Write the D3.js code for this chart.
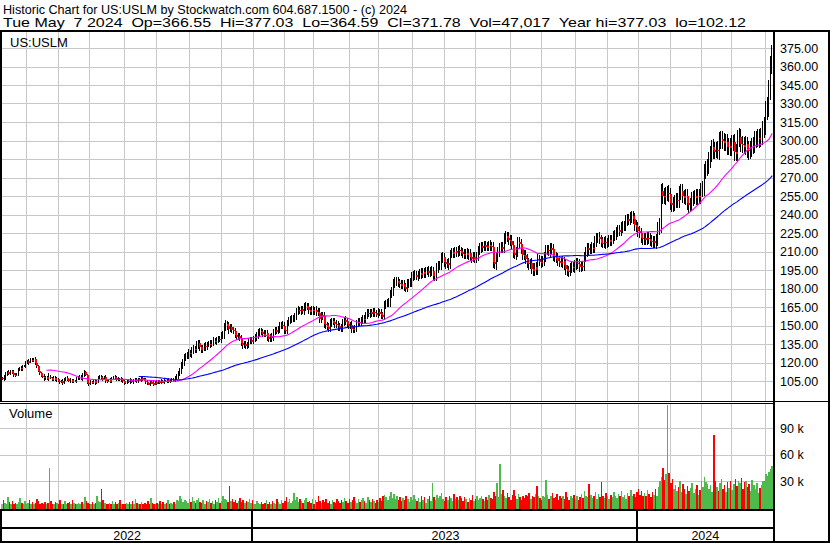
<!DOCTYPE html>
<html>
<head>
<meta charset="utf-8">
<script src="https://cdn.jsdelivr.net/npm/d3@7"></script>
<style>
  body { margin: 0; background: #fff; }
  svg { display: block; }
  text { font-family: "Liberation Sans", Arial, sans-serif; fill: #000; }
</style>
</head>
<body>
<div id="chart"></div>
<script>
// daily closes, US:USLM, 9 May 2022 .. 7 May 2024
var closes = [
  107.5,106.8,108.2,110.4,112.1,111.3,113.0,111.8,110.2,109.6,
  110.5,114.2,115.6,114.8,116.9,117.3,119.8,121.1,120.2,122.4,
  121.6,122.9,119.4,117.2,113.5,111.8,109.3,108.6,107.1,107.9,
  107.2,108.6,107.5,106.2,107.8,105.9,106.6,105.2,104.1,104.8,
  103.6,106.3,107.4,106.5,105.1,105.8,104.6,105.3,104.9,106.7,
  107.6,108.3,107.2,109.5,112.4,110.1,103.5,102.8,104.2,103.4,
  104.7,103.9,104.5,107.3,108.6,107.4,106.8,107.9,105.2,104.6,
  105.8,104.9,107.1,108.4,107.6,106.2,106.9,105.5,106.4,104.8,
  103.2,103.9,105.1,104.6,105.8,104.3,105.6,106.2,105.0,106.4,
  105.7,107.1,106.3,105.4,104.2,103.1,102.6,103.8,103.3,102.9,
  104.1,103.5,104.6,103.9,104.8,104.2,105.3,104.7,105.6,104.9,
  105.4,106.2,105.8,107.6,108.9,111.2,113.4,117.5,120.3,123.6,
  125.4,126.1,127.8,126.6,129.3,131.2,130.4,134.1,135.8,132.2,
  130.1,131.9,133.4,132.6,134.7,135.3,134.6,136.2,137.5,136.8,
  138.1,139.4,138.7,141.6,142.8,148.5,151.2,149.3,147.1,148.4,
  146.7,145.2,142.3,140.8,141.5,139.6,136.2,133.8,134.9,133.5,
  134.6,136.8,138.2,137.5,139.1,140.7,141.9,144.2,145.6,144.8,
  143.5,142.9,143.8,140.6,139.4,140.9,139.8,144.7,146.3,145.5,
  147.2,149.6,150.8,149.9,146.4,145.8,152.3,153.7,154.9,155.6,
  156.2,157.4,161.5,162.7,161.8,163.1,162.2,164.6,165.8,164.9,
  162.3,161.7,162.9,161.4,162.5,161.1,160.4,155.2,158.3,157.6,
  151.4,150.2,148.6,147.9,152.1,153.4,152.8,151.3,150.6,149.2,
  148.1,147.6,152.4,154.3,153.6,150.9,149.8,150.3,147.2,146.8,
  147.5,151.6,153.2,152.7,154.1,155.6,154.8,158.7,160.2,159.4,
  160.6,159.8,161.3,160.1,159.5,160.9,160.2,158.4,157.9,166.3,
  167.8,168.4,169.1,175.2,177.6,183.9,185.4,186.2,184.7,183.5,
  182.6,183.4,181.2,180.7,183.8,184.6,185.1,189.2,190.4,191.1,
  189.7,190.8,192.5,191.6,193.2,192.1,193.9,194.5,192.8,193.7,
  194.2,189.8,190.3,196.5,198.4,199.1,204.2,205.6,201.3,199.8,
  200.6,199.2,207.8,209.4,208.6,210.1,209.2,211.3,210.4,209.7,
  208.2,207.6,208.9,207.3,208.5,205.4,204.6,205.9,204.3,206.1,
  210.8,212.6,214.3,213.5,215.1,214.2,213.8,215.4,214.6,213.9,
  201.2,199.6,205.3,209.8,212.4,213.6,212.9,220.8,222.4,221.3,
  219.5,218.7,215.2,208.4,207.6,209.3,217.8,216.4,212.1,207.5,
  206.8,203.9,200.8,199.6,200.4,196.2,194.1,197.2,195.0,203.6,
  201.8,200.9,202.3,205.6,210.7,211.4,210.2,212.8,212.1,206.4,
  205.3,204.7,202.1,201.5,200.8,201.9,199.3,195.6,194.2,193.8,
  196.4,197.8,196.9,199.5,200.7,199.8,197.6,198.3,197.9,205.6,
  209.4,212.9,211.5,212.2,213.1,212.6,218.4,220.7,221.5,219.9,
  217.2,216.8,218.1,216.5,217.6,219.3,218.6,219.8,222.4,223.7,
  225.9,227.3,226.8,229.6,230.4,231.2,234.8,236.1,235.7,237.9,
  238.6,236.2,231.4,229.8,226.3,224.7,221.2,219.8,220.6,219.4,
  221.3,220.5,218.9,217.6,218.4,217.2,219.1,228.6,231.4,258.7,
  255.3,254.1,256.2,257.8,256.4,249.3,247.6,248.8,250.4,251.9,
  250.7,257.6,258.9,254.8,253.6,255.1,249.2,247.5,248.3,252.4,
  253.8,254.6,253.2,255.1,254.3,259.7,261.4,274.8,277.5,279.2,
  284.6,288.5,294.6,292.2,291.9,292.7,291.4,299.6,301.2,299.8,
  297.9,298.6,294.8,295.7,294.2,297.8,298.4,290.3,289.6,301.9,
  303.1,297.2,296.4,295.1,296.8,292.4,291.3,293.2,295.8,296.7,
  300.8,301.6,302.4,301.1,303.5,309.2,311.8,324.6,327.3,341.2,359.8,371.78
];

// shadow length above and below each body, in dollars
var wicks = [
  1.2,0.8,1.5,2,1,1.6,1.2,0.9,1.8,1.1,0.7,1.4,1,1.9,1.3,0.8,1.6,1.2,2.1,1,
  1.5,0.9,1.3,1.8,1.1,1.6,0.8,1.2,1.7,1,1.4,2.6,1.1,0.9,1.5,1.2,1.7,0.8,1.3,1,
  1.6,1.1,0.9,1.4,1.2,1.8,1,1.3,0.8,1.5,1.1,1.7,1.2,2.2,1.4,1,0.9,1.6,1.3,1.1,
  1.2,1.8,1,1.4,0.9,1.3,1.6,1.1,2,1.2,0.8,1.5,1.3,1,1.7,1.2,1.4,0.9,1.6,1.1,
  1.3,1,1.5,1.2,1.8,0.9,1.4,1.1,1.6,1.3,1,1.5,1.2,0.8,1.7,1.3,1.1,1.4,1,1.6,
  1.2,1.5,1,1.3,1.6,1.1,1.4,0.9,1.2,1.5,1.3,1,1.6,1.4,1.8,2.2,2.5,2.8,2.4,3,
  2.6,2.2,2.9,2.4,3.2,2.7,2.3,3,2.8,2.5,2.2,2.6,2.4,2.9,2.1,2.5,2.7,2.3,2.8,2.2,
  2.6,2.4,2.1,2.8,2.5,3.4,3,2.7,3.6,2.5,2.9,2.4,2.6,2.2,2.8,2.5,3.1,2.7,2.3,2.6,
  2.4,2.8,2.2,2.5,2.7,2.3,2.9,2.6,2.4,2.2,2.7,2.5,2.3,2.8,2.6,2.4,3,2.5,2.7,2.3,
  2.6,2.9,2.4,2.7,3.2,2.8,2.5,3,2.7,2.9,2.6,3.1,2.8,3.3,2.7,3,2.6,3.4,2.9,2.7,
  3,2.8,3.2,2.6,2.9,3.1,2.7,3.5,2.8,3,3.3,2.9,2.6,3.1,2.8,3,2.7,3.2,2.9,3.4,
  2.8,3,2.6,2.9,3.2,2.7,3,2.8,3.3,2.6,2.9,3.1,2.7,3,2.8,3.2,2.9,2.6,3.1,2.8,
  3,2.7,3.2,2.9,2.6,3.1,2.8,3,2.7,3.5,3.2,3,3.4,3.8,3.3,4,3.6,3.2,3.5,3.3,
  3.4,3.1,3.6,3.3,3.8,3.2,3.5,3.9,3.4,3.6,3.2,3.7,3.4,3.9,3.3,3.5,3.8,3.2,3.6,3.4,
  3.7,3.3,3.5,4,3.6,3.4,4.2,3.8,3.5,3.7,3.4,3.9,3.6,3.3,3.8,3.5,3.7,3.4,3.9,3.6,
  3.5,3.8,3.4,3.6,3.9,3.3,3.7,3.5,3.8,3.4,3.6,3.9,3.5,3.7,3.4,3.8,3.6,3.3,3.9,3.5,
  4.2,3.8,4.5,3.9,4.1,3.7,4.4,4,4.6,3.8,4.2,3.9,4.3,3.7,4,4.5,3.8,4.1,3.9,4.3,
  4,4.4,3.8,4.2,3.9,4.6,4.1,3.8,4.3,4,3.9,4.2,3.7,4.1,4.4,3.8,4,4.3,3.9,4.1,
  3.8,4.2,3.9,4.4,3.7,4.1,4,4.3,3.8,4.2,3.9,4.1,3.7,4,4.4,3.8,4.2,3.9,4.1,3.7,
  4,3.8,4.2,3.9,4.3,3.7,4.1,4.4,3.9,4,3.8,4.2,3.9,4.1,3.7,4,4.3,3.8,4.1,3.9,
  4.2,3.9,4.4,4,4.3,3.8,4.5,4.1,4.6,4.2,4.4,4,4.7,4.3,4.5,4.1,4.6,4.2,4.4,4,
  4.5,4.2,4.6,4.1,4.4,4.3,4.8,5,5.5,6,6.5,5.8,6.2,5.6,6,5.4,5.8,5.2,5.6,5.3,
  5.8,5.4,6,5.5,5.2,5.7,5.4,5.9,5.3,5.6,5.5,5.2,5.8,5.4,5.6,6,5.8,6.5,6.2,6,
  6.4,6.8,6.2,7,6.5,6.3,6.7,6.9,6.4,6.6,6.2,6.5,6.8,6.3,6.6,6.4,6.1,6.9,6.5,6.7,
  7,6.5,6.8,6.3,6.7,6.4,6.9,6.2,6.6,6.4,6.8,6.5,6.7,6.9,6.6,7,7.2,7.5,7.8,8,
  8.5,5.5
];

// daily volume, thousands of shares
var volumes = [
  4,9,6,5,12,7,5,8,4,6, 5,7,11,6,4,8,5,6,9,5, 7,4,6,10,8,5,6,4,7,5,
  6,45,8,5,4,7,6,5,9,4, 5,8,4,6,7,5,9,6,4,5, 6,4,7,5,12,8,6,5,4,7,
  5,6,14,8,7,21,9,6,5,4, 6,5,8,4,7,5,6,9,4,5, 4,6,5,7,4,8,5,10,6,4,
  5,7,4,6,5,8,4,11,6,5, 4,6,5,8,4,7,5,6,9,5, 6,4,7,5,9,8,13,10,7,9,
  8,6,10,7,12,8,6,9,11,7, 6,9,5,8,7,10,6,8,5,9, 7,11,6,8,13,10,9,7,25,8,
  10,7,9,6,8,11,7,9,6,8, 7,10,6,9,5,4,8,6,5,7, 4,6,9,5,7,4,8,6,5,10,
  7,5,9,6,8,12,7,10,6,8, 17,9,12,7,10,8,6,9,11,7, 8,6,10,5,9,7,13,8,6,9,
  7,10,6,8,5,9,7,6,10,8, 6,9,7,11,8,6,10,7,9,12, 8,6,10,7,9,11,8,6,12,9,
  7,10,8,6,9,7,11,8,13,15, 12,9,14,18,11,16,10,13,9,12, 8,11,9,14,10,7,12,9,15,10,
  8,11,7,13,9,12,6,10,14,8, 28,12,9,15,11,13,17,10,8,12, 9,14,11,8,16,10,12,9,13,11,
  8,12,10,7,11,9,15,8,10,13, 9,11,14,10,8,12,9,15,11,10, 18,13,28,12,50,16,20,14,11,17,
  12,9,15,20,13,10,16,12,9,14, 11,15,13,17,10,14,12,16,25,13, 11,9,14,12,32,15,10,13,17,11,
  12,16,9,14,11,13,10,18,12,9, 13,11,15,10,14,9,12,16,11,19, 14,12,27,15,11,13,18,10,16,12,
  29,14,11,17,13,10,15,12,18,14, 11,16,13,19,12,15,10,17,14,20, 13,16,12,18,22,15,19,13,17,14,
  20,16,12,18,15,21,13,24,30,35, 45,32,38,125,40,28,33,22,26,19, 24,30,18,27,21,16,25,19,23,28,
  17,22,26,15,20,31,24,35,29,27, 21,26,18,82,30,24,19,28,33,22, 26,18,29,23,31,20,27,33,25,30,
  28,34,22,29,31,24,27,19,32,26, 21,28,17,23,26,31,30,38,36,41,44,47.017
];

var priceTicks = [105,120,135,150,165,180,195,210,225,240,255,270,285,300,315,330,345,360,375];
var volTicks = [30, 60, 90];
var maPeriods = [30, 90];
var maColors = ["#ff00ff", "#0000ff"];

var holidays = ["2022-05-30","2022-06-20","2022-07-04","2022-09-05","2022-11-24","2022-12-26",
  "2023-01-02","2023-01-16","2023-02-20","2023-04-07","2023-05-29","2023-06-19","2023-07-04",
  "2023-09-04","2023-11-23","2023-12-25","2024-01-01","2024-01-15","2024-02-19","2024-03-29"];

var title1 = "Historic Chart for US:USLM by Stockwatch.com 604.687.1500 - (c) 2024";
var title2 = "Tue May  7 2024  Op=366.55  Hi=377.03  Lo=364.59  Cl=371.78  Vol=47,017  Year hi=377.03  lo=102.12";

// trading calendar
var fmtDay = d3.timeFormat("%Y-%m-%d");
var dates = [];
var day = new Date(2022, 4, 9);
while (dates.length < closes.length) {
  var wd = day.getDay();
  if (wd !== 0 && wd !== 6 && holidays.indexOf(fmtDay(day)) < 0) dates.push(new Date(day));
  day = d3.timeDay.offset(day, 1);
}
var monthStarts = [], yearStarts = [0];
for (var i = 1; i < dates.length; i++) {
  if (dates[i].getMonth() !== dates[i-1].getMonth()) monthStarts.push(i);
  if (dates[i].getFullYear() !== dates[i-1].getFullYear()) yearStarts.push(i);
}

// candles: open taken as the prior close
var candles = closes.map(function(c, i) {
  var o = i > 0 ? closes[i-1] : c;
  return { i: i, o: o, c: c, h: Math.max(o, c) + wicks[i], l: Math.min(o, c) - wicks[i], v: volumes[i] };
});

function sma(n) {
  var out = [];
  for (var i = n - 1; i < closes.length; i++) {
    out.push({ i: i, v: d3.mean(closes.slice(i - n + 1, i + 1)) });
  }
  return out;
}

// layout
var w = 830, h = 543;
var plotL = 1, plotR = 773, mainTop = 32, mainBot = 401, volTop = 404, volBot = 509;

var svg = d3.select("#chart").append("svg").attr("width", w).attr("height", h);
svg.append("rect").attr("width", w).attr("height", h).attr("fill", "#fff");

var xScale = d3.scaleLinear().domain([0, closes.length]).range([plotL, plotR]);
var yScale = d3.scaleLinear().domain([105, 375]).range([381, 48]);
var vScale = d3.scaleLinear().domain([0, 90]).range([508, 428.3]);

svg.append("clipPath").attr("id", "clipMain").append("rect")
  .attr("x", 2).attr("y", mainTop).attr("width", plotR - 2).attr("height", mainBot - mainTop - 1);
svg.append("clipPath").attr("id", "clipVol").append("rect")
  .attr("x", 0).attr("y", volTop + 1).attr("width", plotR).attr("height", volBot - volTop - 1);

// grid
var grid = svg.append("g").attr("stroke", "#c8c8c8").attr("stroke-width", 1).attr("shape-rendering", "crispEdges");
monthStarts.forEach(function(m) {
  var gx = Math.round(xScale(m)) + 0.5;
  grid.append("line").attr("x1", gx).attr("x2", gx).attr("y1", mainTop).attr("y2", mainBot);
  grid.append("line").attr("x1", gx).attr("x2", gx).attr("y1", volTop).attr("y2", volBot);
});
priceTicks.forEach(function(t) {
  var gy = Math.round(yScale(t)) + 0.5;
  grid.append("line").attr("x1", plotL).attr("x2", plotR).attr("y1", gy).attr("y2", gy);
});
volTicks.forEach(function(t) {
  var gy = Math.round(vScale(t)) + 0.5;
  grid.append("line").attr("x1", 0).attr("x2", plotR).attr("y1", gy).attr("y2", gy);
});

// volume bars, snapped to whole pixels so neighbours touch
svg.append("g").attr("clip-path", "url(#clipVol)").attr("shape-rendering", "crispEdges")
  .selectAll("rect").data(candles).enter().append("rect")
  .attr("x", function(d) { return Math.round(xScale(d.i)); })
  .attr("width", function(d) { return Math.max(1, Math.round(xScale(d.i + 1)) - Math.round(xScale(d.i))); })
  .attr("y", function(d) { return Math.round(vScale(d.v)); })
  .attr("height", function(d) { return Math.round(vScale(0)) - Math.round(vScale(d.v)) + 1; })
  .attr("fill", function(d) { return d.c > d.o ? "#4cbb4c" : (d.c < d.o ? "#ff0000" : "#a8a8a8"); });

// candles: black high-low line, red body on down days
var cg = svg.append("g").attr("clip-path", "url(#clipMain)").attr("shape-rendering", "crispEdges");
cg.selectAll("line").data(candles).enter().append("line")
  .attr("x1", function(d) { return Math.round(xScale(d.i + 0.5)) - 0.5; })
  .attr("x2", function(d) { return Math.round(xScale(d.i + 0.5)) - 0.5; })
  .attr("y1", function(d) { return yScale(d.h); })
  .attr("y2", function(d) { return yScale(d.l); })
  .attr("stroke", "#000").attr("stroke-width", 1);
cg.selectAll("rect").data(candles.filter(function(d) { return d.c < d.o; })).enter().append("rect")
  .attr("x", function(d) { return Math.round(xScale(d.i + 0.5)) - 1; })
  .attr("width", 2)
  .attr("y", function(d) { return yScale(d.o); })
  .attr("height", function(d) { return Math.max(1.5, yScale(d.c) - yScale(d.o)); })
  .attr("fill", "#ff0000");

// moving averages
var maLine = d3.line().x(function(d) { return xScale(d.i + 0.5); }).y(function(d) { return yScale(d.v); });
maPeriods.forEach(function(n, k) {
  cg.append("path").datum(sma(n)).attr("d", maLine)
    .attr("fill", "none").attr("stroke", maColors[k]).attr("stroke-width", 1.1)
    .attr("shape-rendering", "auto");
});

// frame
var frame = svg.append("g").attr("stroke", "#000").attr("shape-rendering", "crispEdges");
function hline(x1, x2, y, sw) { frame.append("line").attr("x1", x1).attr("x2", x2).attr("y1", y).attr("y2", y).attr("stroke-width", sw); }
function vline(x, y1, y2, sw) { frame.append("line").attr("x1", x).attr("x2", x).attr("y1", y1).attr("y2", y2).attr("stroke-width", sw); }
hline(0, w, 31, 2);
vline(1, 31, mainBot, 2);
hline(0, plotR, mainBot, 1);
hline(0, plotR, mainBot + 2.5, 1);
hline(plotR, w, mainBot, 1);
hline(0, plotR + 1, volBot + 1, 2);
hline(0, plotR + 1, 528, 2);
hline(0, w, 541.5, 2);
vline(1, volBot, 542, 2);
vline(774, 31, 542, 2);
vline(829, 31, 542, 2);
yearStarts.slice(1).forEach(function(ys) {
  vline(Math.round(xScale(ys)) - 1, volBot, 542, 2);
});

// year labels
var bounds = yearStarts.concat([closes.length]);
for (var k = 0; k < yearStarts.length; k++) {
  svg.append("text")
    .attr("x", (xScale(bounds[k]) + xScale(bounds[k+1])) / 2)
    .attr("y", 539.5)
    .attr("text-anchor", "middle")
    .style("font-size", "12.5px")
    .text(dates[bounds[k]].getFullYear());
}

// right axis labels
priceTicks.forEach(function(t) {
  svg.append("text").attr("x", 780).attr("y", yScale(t) + 4.5)
    .style("font-size", "12.5px").text(t.toFixed(2));
});
volTicks.forEach(function(t) {
  svg.append("text").attr("x", 780).attr("y", vScale(t) + 4.5)
    .style("font-size", "12.5px").text(t + " k");
});

// titles
svg.append("text").attr("x", 3).attr("y", 13.5).style("font-size", "13px")
  .attr("textLength", 404).attr("lengthAdjust", "spacingAndGlyphs").text(title1);
svg.append("text").attr("x", 3).attr("y", 27).style("font-size", "13px").style("white-space", "pre")
  .attr("textLength", 743).attr("lengthAdjust", "spacingAndGlyphs").text(title2);
svg.append("text").attr("x", 10).attr("y", 47).style("font-size", "13px").text("US:USLM");
svg.append("text").attr("x", 9).attr("y", 418).style("font-size", "13px").text("Volume");
</script>
</body>
</html>
